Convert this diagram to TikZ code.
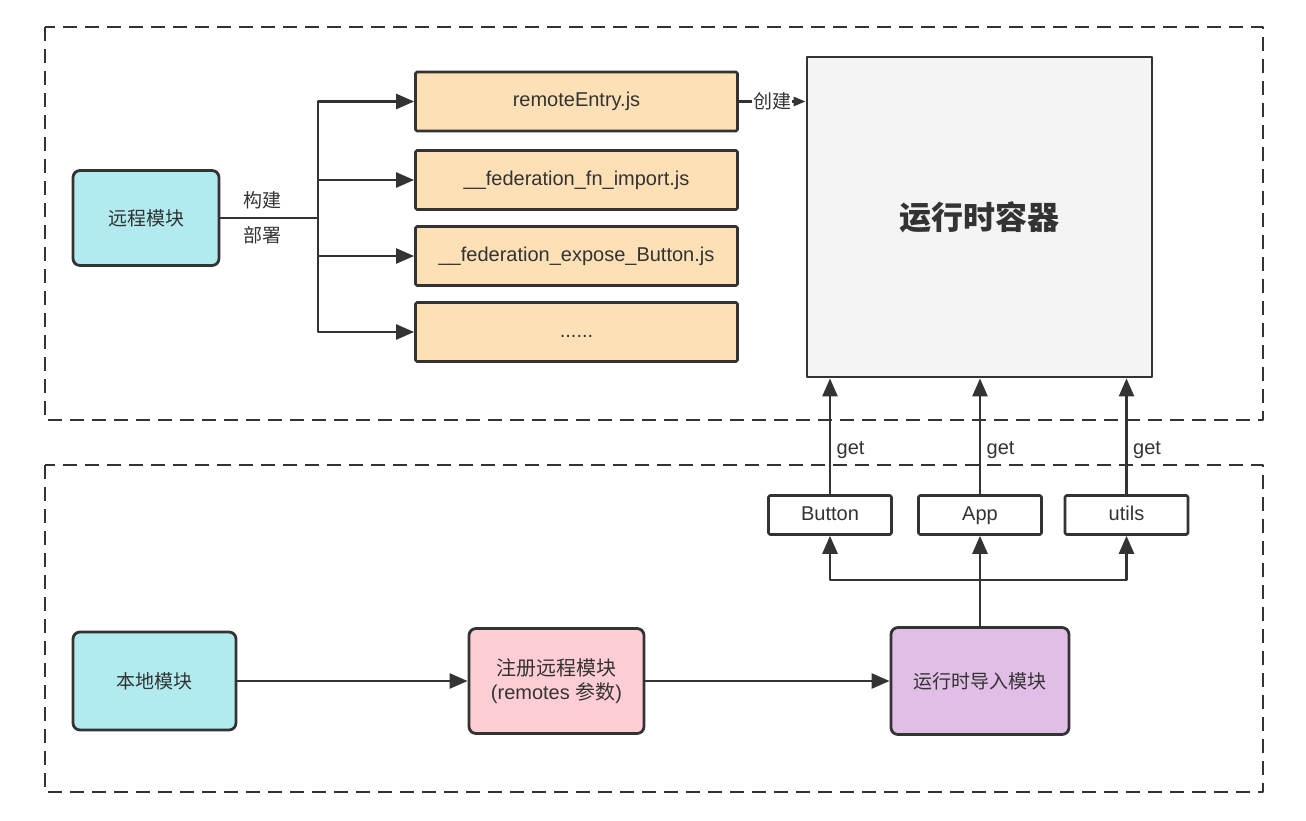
\documentclass[tikz,border=0pt]{standalone}
\usepackage{fontspec}
\setmainfont{Liberation Sans}
\newfontfamily\cjk{Noto Sans CJK SC}
\usetikzlibrary{arrows.meta, positioning}
\definecolor{inkgrey}{RGB}{51, 51, 51}
\definecolor{modcyan}{RGB}{177, 234, 239}
\definecolor{chunkorange}{RGB}{253, 224, 182}
\definecolor{regpink}{RGB}{255, 206, 212}
\definecolor{rtpurple}{RGB}{224, 190, 229}
\definecolor{boxgrey}{RGB}{244, 244, 244}

\begin{document}
\begin{tikzpicture}[x=1pt, y=-1pt, line join=round,
    font=\fontsize{20}{24}\selectfont, text=inkgrey,
    cn/.style={font=\cjk\fontsize{19}{24}\selectfont},
    zone/.style={draw=inkgrey, line width=2.8pt, dash pattern=on 14pt off 8pt},
    modbox/.style={draw=inkgrey, line width=2.8pt, rounded corners=7pt, align=center},
    chunk/.style={draw=inkgrey, fill=chunkorange, line width=2.8pt, rounded corners=1.5pt, minimum width=322pt, minimum height=59pt,
                  text height=14pt, text depth=4pt},
    expbox/.style={draw=inkgrey, fill=white, line width=2.6pt, rounded corners=1.5pt, minimum width=123pt, minimum height=39pt,
                   text height=14pt, text depth=4pt},
    conn/.style={draw=inkgrey, line width=2.6pt, -{Triangle[length=18pt, width=15pt]}},
    line/.style={draw=inkgrey, line width=2.6pt}]
  \useasboundingbox (0,0) rectangle (1306,820);

  \draw[zone] (45,27) rectangle (1263,420);
  \draw[zone] (45,465) rectangle (1263,792);

  \node[modbox, cn, fill=modcyan, minimum width=146pt, minimum height=95pt] (remote) at (146,218) {远程模块};
  \node[chunk] (entry) at (576.5,101.5) {remoteEntry.js};
  \node[chunk] (fnimport) at (576.5,180) {\_\_federation\_fn\_import.js};
  \node[chunk] (expose) at (576.5,256) {\_\_federation\_expose\_Button.js};
  \node[chunk] (more) at (576.5,332) {......};
  \node[draw=inkgrey, fill=boxgrey, line width=2.8pt, minimum width=345pt, minimum height=320pt,
        font=\cjk\bfseries\fontsize{32}{38}\selectfont] (container) at (979.5,217) {运行时容器};

  \node[expbox] (button) at (830,515) {Button};
  \node[expbox] (app) at (980,515) {App};
  \node[expbox] (utils) at (1126.5,515) {utils};

  \node[modbox, cn, fill=modcyan, minimum width=163pt, minimum height=98pt] (local) at (154.5,681) {本地模块};
  \node[modbox, fill=regpink, minimum width=175pt, minimum height=105pt] (register) at (556.5,681)
    {{\cjk 注册远程模块}\\(remotes {\cjk 参数})};
  \node[modbox, cn, fill=rtpurple, minimum width=178pt, minimum height=107pt] (rtimport) at (980,681) {运行时导入模块};

  \coordinate (trunk) at (318,218);
  \draw[line] (remote) -- node[cn, pos=0.43, above=4pt] {构建} node[cn, pos=0.43, below=4pt] {部署} (trunk);
  \foreach \f in {entry, fnimport, expose, more}
    \draw[conn] (trunk) |- (\f.west);
  \draw[draw=inkgrey, line width=2.6pt, -{Triangle[length=12pt, width=9pt]}] (entry.east)
    -- node[cn, fill=white, inner sep=1pt] {创建} (entry.east -| container.west);

  \foreach \m in {button, app, utils}
    \draw[conn] (\m) -- node[right=2pt, pos=0.38] {get} (\m |- container.south);

  \coordinate (split) at ([yshift=46pt]rtimport.north);
  \draw[line] (rtimport) -- (split);
  \draw[conn] (split) -| (button);
  \draw[conn] (split) -- (app);
  \draw[conn] (split) -| (utils);

  \draw[conn] (local) -- (register);
  \draw[conn] (register) -- (rtimport);
\end{tikzpicture}
\end{document}
